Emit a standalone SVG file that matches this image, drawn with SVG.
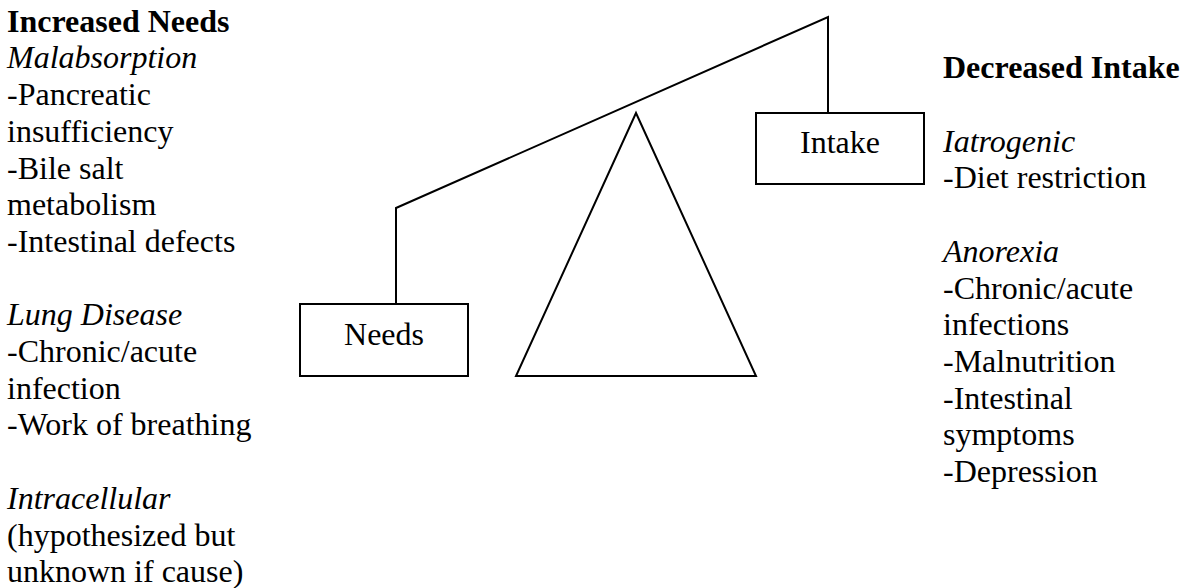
<svg xmlns="http://www.w3.org/2000/svg" width="1188" height="588" viewBox="0 0 1188 588">
<style>
text{font-family:"Liberation Serif","Times New Roman",serif;font-size:32px;fill:#000}
.b{font-weight:bold}
.i{font-style:italic}
.shape{fill:none;stroke:#000;stroke-width:2}
.box{fill:#fff;stroke:#000;stroke-width:2}
</style>
<rect width="1188" height="588" fill="#fff"/>
<g id="connectors">
<polyline class="shape" points="396,304 396,208 828,17 828,113"/>
</g>
<g id="fulcrum">
<polygon class="shape" points="636,113 756,376 516,376"/>
</g>
<g id="needs">
<rect class="box" x="300" y="304" width="168" height="72"/>
<text x="384" y="345" text-anchor="middle">Needs</text>
</g>
<g id="intake">
<rect class="box" x="756" y="113" width="168" height="71"/>
<text x="840" y="153" text-anchor="middle">Intake</text>
</g>
<g id="left-text">
<text x="7" y="31.7" class="b">Increased Needs</text>
<text x="7" y="68.4" class="i">Malabsorption</text>
<text x="7" y="105.1">-Pancreatic</text>
<text x="7" y="141.8">insufficiency</text>
<text x="7" y="178.5">-Bile salt</text>
<text x="7" y="215.2">metabolism</text>
<text x="7" y="251.9">-Intestinal defects</text>
<text x="7" y="325.3" class="i">Lung Disease</text>
<text x="7" y="362">-Chronic/acute</text>
<text x="7" y="398.7">infection</text>
<text x="7" y="435.4">-Work of breathing</text>
<text x="7" y="508.8" class="i">Intracellular</text>
<text x="7" y="545.5">(hypothesized but</text>
<text x="7" y="582.2">unknown if cause)</text>
</g>
<g id="right-text">
<text x="943" y="78.3" class="b">Decreased Intake</text>
<text x="943" y="151.7" class="i">Iatrogenic</text>
<text x="943" y="188.4">-Diet restriction</text>
<text x="943" y="261.8" class="i">Anorexia</text>
<text x="943" y="298.5">-Chronic/acute</text>
<text x="943" y="335.2">infections</text>
<text x="943" y="371.9">-Malnutrition</text>
<text x="943" y="408.6">-Intestinal</text>
<text x="943" y="445.3">symptoms</text>
<text x="943" y="482">-Depression</text>
</g>
</svg>
